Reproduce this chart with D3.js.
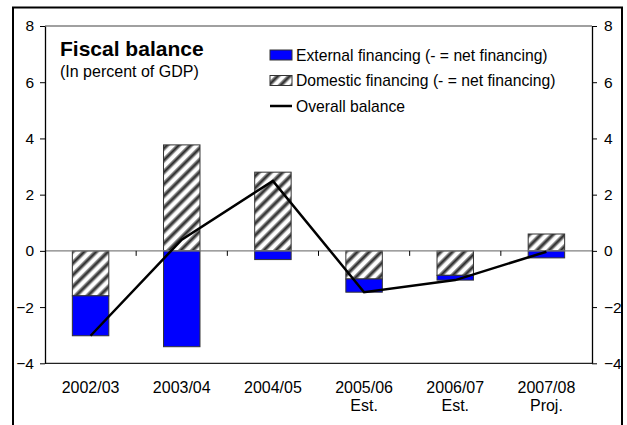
<!DOCTYPE html>
<html>
<head>
<meta charset="utf-8">
<script src="https://cdn.jsdelivr.net/npm/d3@7"></script>
<style>
  body { margin: 0; background: #fff; }
  svg { display: block; font-family: "Liberation Sans", Arial, sans-serif; }
</style>
</head>
<body>
<svg width="627" height="425"></svg>
<script>
// data
var categories = ["2002/03", "2003/04", "2004/05", "2005/06", "2006/07", "2007/08"];
var subLabels = ["", "", "", "Est.", "Est.", "Proj."];
var domestic = [-1.6, 3.77, 2.8, -1.0, -0.87, 0.6];
var external = [-1.42, -3.41, -0.31, -0.47, -0.17, -0.25];
var overall = [-3.02, 0.4, 2.49, -1.47, -1.04, -0.03];
var yTicks = [-4, -2, 0, 2, 4, 6, 8];

var plot = {left: 45, right: 592, top: 26, bottom: 363.3};

var svg = d3.select('svg');

// outer frame (cut at the bottom)
svg.append('path')
    .attr('d', 'M13,430 V7.5 H622 V430')
    .attr('fill', 'none')
    .attr('stroke', '#000')
    .attr('stroke-width', 2);

// hatch pattern
var defs = svg.append('defs');
var pat = defs.append('pattern')
    .attr('id', 'hatch')
    .attr('patternUnits', 'userSpaceOnUse')
    .attr('width', 8.4)
    .attr('height', 8.4)
    .attr('patternTransform', 'rotate(45)');
pat.append('rect').attr('width', 8.4).attr('height', 8.4).attr('fill', '#fff');
pat.append('rect').attr('x', 0).attr('width', 1.2).attr('height', 8.4).attr('fill', '#999');
pat.append('rect').attr('x', 1.2).attr('width', 2.4).attr('height', 8.4).attr('fill', '#2a2a2a');
pat.append('rect').attr('x', 3.6).attr('width', 1.2).attr('height', 8.4).attr('fill', '#999');

var x = d3.scaleBand()
    .domain(categories)
    .range([plot.left, plot.right])
    .paddingInner(0.6)
    .paddingOuter(0.3);

var xc = d3.scalePoint()
    .domain(categories)
    .range([plot.left, plot.right])
    .padding(0.5);

var y = d3.scaleLinear()
    .domain([-4, 8])
    .range([plot.bottom, plot.top]);

// plot frame lines
svg.append('line')
    .attr('x1', plot.left).attr('x2', plot.right)
    .attr('y1', y(8)).attr('y2', y(8))
    .attr('stroke', '#808080').attr('stroke-width', 1.3);
svg.append('line')
    .attr('x1', plot.left).attr('x2', plot.right)
    .attr('y1', y(-4)).attr('y2', y(-4))
    .attr('stroke', '#222').attr('stroke-width', 1.3);

// stacked bars
var rows = categories.map((c, i) => ({cat: c, domestic: domestic[i], external: external[i]}));
var stack = d3.stack()
    .keys(['domestic', 'external'])
    .offset(d3.stackOffsetDiverging);
var series = stack(rows);
var fills = {domestic: 'url(#hatch)', external: '#0000ff'};

svg.append('g').selectAll('g')
    .data(series)
    .join('g')
    .attr('fill', d => fills[d.key])
    .selectAll('rect')
    .data(d => d)
    .join('rect')
    .attr('x', d => x(d.data.cat))
    .attr('width', x.bandwidth())
    .attr('y', d => y(Math.max(d[0], d[1])))
    .attr('height', d => Math.abs(y(d[0]) - y(d[1])))
    .attr('stroke', '#333')
    .attr('stroke-width', 1);

// zero axis with category ticks
var zeroAxis = svg.append('g');
zeroAxis.append('line')
    .attr('x1', plot.left).attr('x2', plot.right)
    .attr('y1', y(0)).attr('y2', y(0))
    .attr('stroke', '#808080').attr('stroke-width', 1.3);
zeroAxis.selectAll('.ctick')
    .data(categories.slice(1))
    .join('line')
    .attr('class', 'ctick')
    .attr('x1', (d, i) => xc(categories[i]) + xc.step() / 2)
    .attr('x2', (d, i) => xc(categories[i]) + xc.step() / 2)
    .attr('y1', y(0)).attr('y2', y(0) + 5)
    .attr('stroke', '#000');

// overall balance line
var line = d3.line()
    .x((d, i) => xc(categories[i]))
    .y(d => y(d));
svg.append('path')
    .datum(overall)
    .attr('d', line)
    .attr('fill', 'none')
    .attr('stroke', '#000')
    .attr('stroke-width', 2.5)
    .attr('stroke-linejoin', 'miter');

// y axes
var leftAxis = svg.append('g')
    .attr('transform', `translate(${plot.left},0)`)
    .call(d3.axisLeft(y).tickValues(yTicks).tickSize(5).tickPadding(6).tickSizeOuter(0));
var rightAxis = svg.append('g')
    .attr('transform', `translate(${plot.right},0)`)
    .call(d3.axisRight(y).tickValues(yTicks).tickSize(5).tickPadding(7).tickSizeOuter(0));
[leftAxis, rightAxis].forEach(a => {
    a.select('.domain').attr('stroke', '#000').attr('stroke-width', 1.3);
    a.selectAll('.tick line').attr('stroke', '#000');
    a.selectAll('.tick text')
        .attr('font-size', 15.5)
        .attr('font-family', '"Liberation Sans", Arial, sans-serif')
        .attr('fill', '#000');
});

// category labels
var labels = svg.append('g')
    .attr('font-size', 16)
    .attr('text-anchor', 'middle')
    .attr('fill', '#000');
labels.selectAll('.cat')
    .data(categories)
    .join('text')
    .attr('class', 'cat')
    .attr('x', d => xc(d))
    .attr('y', 393)
    .text(d => d);
labels.selectAll('.sub')
    .data(subLabels)
    .join('text')
    .attr('class', 'sub')
    .attr('x', (d, i) => xc(categories[i]))
    .attr('y', 411)
    .text(d => d);

// title
svg.append('text')
    .attr('x', 60).attr('y', 56)
    .attr('font-size', 21)
    .attr('font-weight', 'bold')
    .text('Fiscal balance');
svg.append('text')
    .attr('x', 60).attr('y', 77)
    .attr('font-size', 16)
    .text('(In percent of GDP)');

// legend
var legendItems = [
    {label: 'External financing (- = net financing)', type: 'external'},
    {label: 'Domestic financing (- = net financing)', type: 'domestic'},
    {label: 'Overall balance', type: 'line'}
];
var legend = svg.append('g').attr('transform', 'translate(270,0)');
var legendRowY = [55, 80.5, 106];
legendItems.forEach((d, i) => {
    var g = legend.append('g').attr('transform', `translate(0,${legendRowY[i]})`);
    if (d.type === 'line') {
        g.append('line')
            .attr('x1', 0).attr('x2', 22)
            .attr('stroke', '#000').attr('stroke-width', 2.5);
    } else {
        g.append('rect')
            .attr('x', 0).attr('y', -5)
            .attr('width', 22).attr('height', 10)
            .attr('fill', fills[d.type])
            .attr('stroke', '#333');
    }
    g.append('text')
        .attr('x', 26).attr('y', 5.5)
        .attr('font-size', 15.7)
        .text(d.label);
});
</script>
</body>
</html>
